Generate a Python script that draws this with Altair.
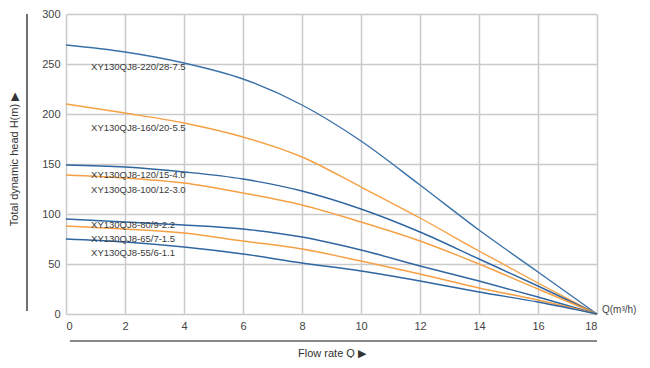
import altair as alt
import pandas as pd

flow = [0, 2, 4, 6, 8, 10, 12, 14, 16, 18]

models = [
    "XY130QJ8-220/28-7.5",
    "XY130QJ8-160/20-5.5",
    "XY130QJ8-120/15-4.0",
    "XY130QJ8-100/12-3.0",
    "XY130QJ8-80/9-2.2",
    "XY130QJ8-65/7-1.5",
    "XY130QJ8-55/6-1.1",
]

head_220 = [269, 262, 251, 235, 209, 173, 129, 84, 42, 0]
head_160 = [210, 201, 191, 177, 157, 127, 96, 63, 31, 0]
head_120 = [149, 147, 142, 135, 123, 105, 82, 55, 28, 0]
head_100 = [139, 136, 131, 121, 109, 92, 73, 50, 25, 0]
head_80 = [95, 92, 89, 85, 77, 64, 48, 33, 17, 0]
head_65 = [88, 85, 81, 73, 65, 53, 40, 26, 14, 0]
head_55 = [75, 72, 67, 60, 51, 43, 33, 22, 12, 0]

heads = [head_220, head_160, head_120, head_100, head_80, head_65, head_55]
colors = ["#3a72a8", "#f6a045", "#2f65a0", "#f6a045", "#2f65a0", "#f6a045", "#2f65a0"]

label_x = [0.85] * 7
label_y = [247, 186, 139, 124, 89, 75, 61]

x_ticks = [0, 2, 4, 6, 8, 10, 12, 14, 16, 18]
y_ticks = [0, 50, 100, 150, 200, 250, 300]

FONT = "Liberation Sans"

rows = []
for m, h in zip(models, heads):
    for q, v in zip(flow, h):
        rows.append({"model": m, "Q": q, "H": v})
df = pd.DataFrame(rows)

lab_df = pd.DataFrame({"model": models, "lx": label_x, "ly": label_y})

xs = alt.Scale(domain=[0, 18], nice=False, zero=False)
ys = alt.Scale(domain=[0, 300], nice=False)

lines = alt.Chart(df).mark_line(interpolate="monotone", strokeWidth=1.4).encode(
    x=alt.X("Q:Q", scale=xs, axis=alt.Axis(
        values=x_ticks, title="Flow rate Q \u25B6", ticks=False, domain=False,
        labelPadding=6, titlePadding=16, grid=True)),
    y=alt.Y("H:Q", scale=ys, axis=alt.Axis(
        values=y_ticks, title="Total dynamic head H(m) \u25B6", ticks=False, domain=False,
        labelPadding=6, grid=True, titleX=-52, titleY=145, titleAngle=-90,
        titleAlign="center", titleBaseline="middle")),
    color=alt.Color("model:N", scale=alt.Scale(domain=models, range=colors), legend=None),
    detail="model:N",
)

labels = alt.Chart(lab_df).mark_text(
    align="left", baseline="middle", font=FONT, fontSize=9.5, color="#3a3a3a"
).encode(x=alt.X("lx:Q", scale=xs), y=alt.Y("ly:Q", scale=ys), text="model:N")

qlab = alt.Chart(pd.DataFrame({"q": [18], "h": [0], "t": ["Q(m\u00b3/h)"]})).mark_text(
    align="left", baseline="middle", font=FONT, fontSize=10, color="#444", dx=5, dy=-4
).encode(x=alt.X("q:Q", scale=xs), y=alt.Y("h:Q", scale=ys), text="t:N")

yline = alt.Chart(pd.DataFrame({"a": [0]})).mark_rule(color="#111", strokeWidth=1.2).encode(
    x=alt.value(-39), y=alt.value(0), y2=alt.value(297))

xline = alt.Chart(pd.DataFrame({"a": [0]})).mark_rule(color="#888", strokeWidth=2).encode(
    x=alt.value(4), x2=alt.value(531), y=alt.value(327))

chart = alt.layer(lines, labels, qlab, yline, xline).properties(
    width=531, height=300,
    autosize=alt.AutoSizeParams(type="none"),
    padding={"left": 58, "top": 6, "right": 45, "bottom": 44},
).configure_view(strokeWidth=0).configure_axis(
    gridColor="#cacaca", gridWidth=1.5, labelFont=FONT, titleFont=FONT,
    labelFontSize=11, titleFontSize=11, labelColor="#444", titleColor="#333",
    titleFontWeight="normal",
)

chart.save("out.html", embed_options={"renderer": "svg", "actions": False})
